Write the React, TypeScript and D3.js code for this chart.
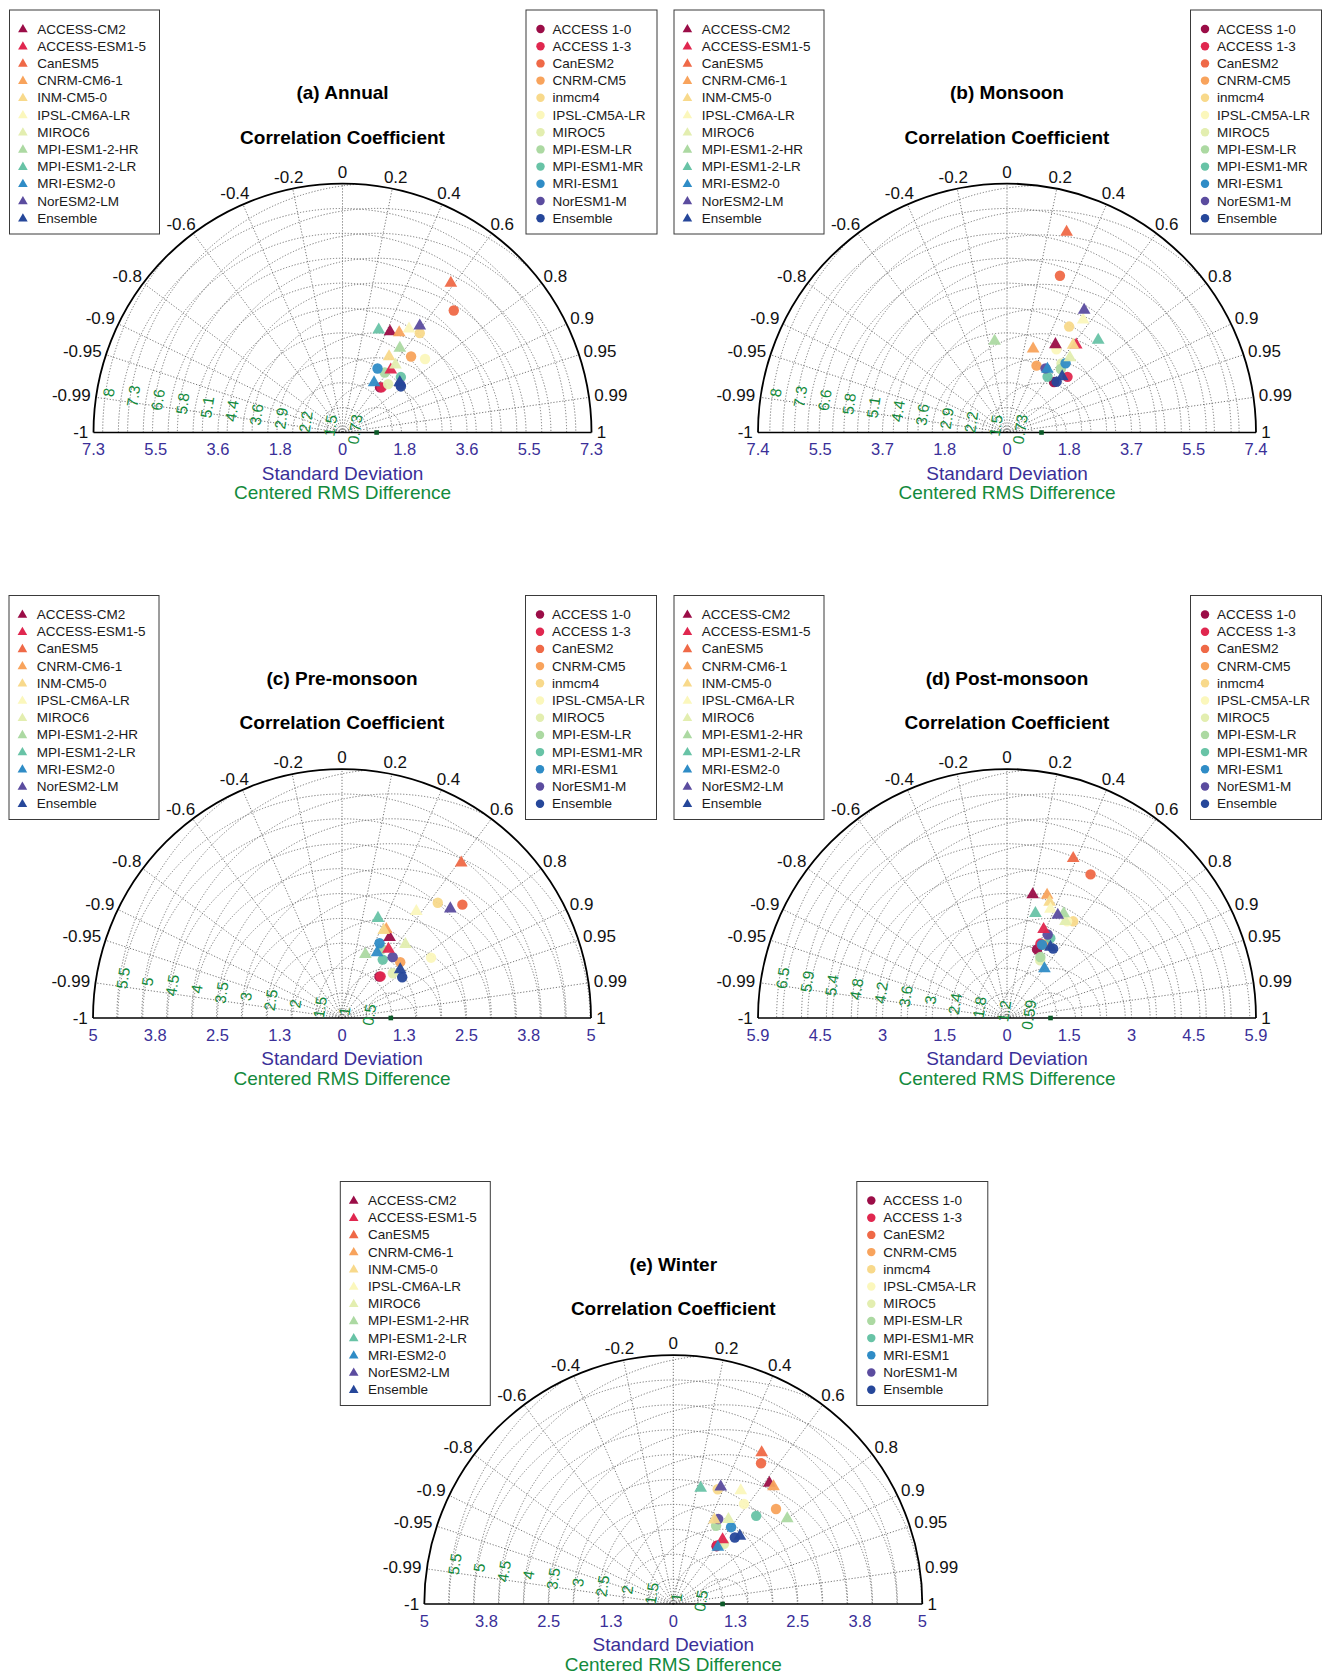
import React from 'react';
import * as d3 from 'd3';

// ---------- model names & colours ----------
const cmip6Models = ['ACCESS-CM2', 'ACCESS-ESM1-5', 'CanESM5', 'CNRM-CM6-1', 'INM-CM5-0', 'IPSL-CM6A-LR', 'MIROC6', 'MPI-ESM1-2-HR', 'MPI-ESM1-2-LR', 'MRI-ESM2-0', 'NorESM2-LM', 'Ensemble'];
const cmip5Models = ['ACCESS 1-0', 'ACCESS 1-3', 'CanESM2', 'CNRM-CM5', 'inmcm4', 'IPSL-CM5A-LR', 'MIROC5', 'MPI-ESM-LR', 'MPI-ESM1-MR', 'MRI-ESM1', 'NorESM1-M', 'Ensemble'];
const modelColors = ['#9b0d47', '#e0274f', '#ef6947', '#f8a35c', '#f8d98b', '#fbf7bc', '#e3eeb0', '#acd9a2', '#68c3a6', '#2f8cc6', '#5b4c9f', '#26479a'];

// ---------- (a) Annual ----------
const annualCmip6Std = [3.27, 2.32, 5.41, 3.37, 2.61, 3.61, 2.52, 2.99, 3.19, 1.73, 3.86, 2.23];
const annualCmip6Corr = [0.426, 0.61, 0.587, 0.493, 0.523, 0.54, 0.616, 0.562, 0.333, 0.535, 0.587, 0.753];
const annualCmip5Std = [1.72, 1.75, 4.84, 3.0, 3.69, 3.24, 1.95, 2.15, 2.36, 2.14, 2.2, 2.18];
const annualCmip5Corr = [0.64, 0.655, 0.674, 0.67, 0.614, 0.747, 0.686, 0.576, 0.725, 0.48, 0.77, 0.785];

// ---------- (b) Monsoon ----------
const monsoonCmip6Std = [2.97, 3.3, 6.18, 2.59, 3.24, 4.02, 2.89, 2.73, 3.84, 2.22, 4.28, 2.32];
const monsoonCmip6Corr = [0.482, 0.62, 0.285, 0.298, 0.603, 0.56, 0.643, -0.134, 0.702, 0.538, 0.533, 0.703];
const monsoonCmip5Std = [2.04, 2.43, 4.89, 2.16, 3.63, 2.86, 2.6, 2.46, 2.04, 2.68, 2.21, 2.1];
const monsoonCmip5Corr = [0.681, 0.736, 0.32, 0.404, 0.506, 0.511, 0.62, 0.647, 0.588, 0.646, 0.515, 0.699];

// ---------- (c) Pre-monsoon ----------
const preCmip6Std = [1.88, 1.67, 3.93, 1.99, 1.95, 2.61, 1.95, 1.36, 2.13, 1.49, 3.09, 1.52];
const preCmip6Corr = [0.508, 0.559, 0.609, 0.447, 0.43, 0.572, 0.653, 0.345, 0.339, 0.473, 0.704, 0.769];
const preCmip5Std = [1.12, 1.14, 3.32, 1.62, 3.01, 2.16, 1.36, 1.6, 1.43, 1.68, 1.59, 1.46];
const preCmip5Corr = [0.671, 0.68, 0.728, 0.722, 0.639, 0.828, 0.751, 0.5, 0.572, 0.449, 0.64, 0.828];

// ---------- (d) Post-monsoon ----------
const postCmip6Std = [3.01, 2.29, 4.13, 3.09, 2.95, 2.8, 2.7, 2.84, 2.59, 1.48, 2.74, 1.99];
const postCmip6Corr = [0.204, 0.382, 0.383, 0.31, 0.345, 0.371, 0.517, 0.477, 0.262, 0.604, 0.443, 0.522];
const postCmip5Std = [1.79, 1.95, 3.97, 1.97, 2.8, 2.72, 1.59, 1.66, 2.17, 1.94, 2.22, 1.99];
const postCmip5Corr = [0.401, 0.41, 0.503, 0.453, 0.565, 0.528, 0.5, 0.48, 0.477, 0.431, 0.438, 0.554];

// ---------- (e) Winter ----------
const winterCmip6Std = [3.1, 1.63, 3.52, 3.1, 1.88, 2.65, 2.03, 2.86, 2.39, 1.45, 2.54, 1.91];
const winterCmip6Corr = [0.622, 0.607, 0.504, 0.649, 0.439, 0.511, 0.545, 0.8, 0.23, 0.617, 0.375, 0.7];
const winterCmip5Std = [1.45, 1.47, 3.33, 2.81, 2.47, 2.46, 1.58, 1.79, 2.43, 1.93, 1.93, 1.82];
const winterCmip5Corr = [0.599, 0.6, 0.529, 0.734, 0.361, 0.577, 0.645, 0.48, 0.685, 0.601, 0.468, 0.679];

// ---------- axes / ticks ----------
const corrTicks = [-0.99, -0.95, -0.9, -0.8, -0.6, -0.4, -0.2, 0, 0.2, 0.4, 0.6, 0.8, 0.9, 0.95, 0.99];
const corrLabels = [-1, -0.99, -0.95, -0.9, -0.8, -0.6, -0.4, -0.2, 0, 0.2, 0.4, 0.6, 0.8, 0.9, 0.95, 0.99, 1];

const annualStdLabels = ['0', '1.8', '3.6', '5.5', '7.3'];
const monsoonStdLabels = ['0', '1.8', '3.7', '5.5', '7.4'];
const preStdLabels = ['0', '1.3', '2.5', '3.8', '5'];
const postStdLabels = ['0', '1.5', '3', '4.5', '5.9'];
const winterStdLabels = ['0', '1.3', '2.5', '3.8', '5'];

const rmsLabels73 = ['0.73', '1.5', '2.2', '2.9', '3.6', '4.4', '5.1', '5.8', '6.6', '7.3', '8'];
const rmsLabels5 = ['0.5', '1', '1.5', '2', '2.5', '3', '3.5', '4', '4.5', '5', '5.5'];
const rmsLabels59 = ['0.59', '1.2', '1.8', '2.4', '3', '3.6', '4.2', '4.8', '5.4', '5.9', '6.5'];

const panels = [
  { id: 'a', title: '(a) Annual', cx: 342.5, cy: 432.5, stdMax: 7.3, step: 0.73, rmsStep: 0.73, refStd: 1.0, stdLabels: annualStdLabels, rmsLabels: rmsLabels73, s6: annualCmip6Std, c6: annualCmip6Corr, s5: annualCmip5Std, c5: annualCmip5Corr },
  { id: 'b', title: '(b) Monsoon', cx: 1007, cy: 432.5, stdMax: 7.36, step: 0.736, rmsStep: 0.73, refStd: 1.02, stdLabels: monsoonStdLabels, rmsLabels: rmsLabels73, s6: monsoonCmip6Std, c6: monsoonCmip6Corr, s5: monsoonCmip5Std, c5: monsoonCmip5Corr },
  { id: 'c', title: '(c) Pre-monsoon', cx: 342, cy: 1018, stdMax: 5, step: 0.5, rmsStep: 0.5, refStd: 0.98, stdLabels: preStdLabels, rmsLabels: rmsLabels5, s6: preCmip6Std, c6: preCmip6Corr, s5: preCmip5Std, c5: preCmip5Corr },
  { id: 'd', title: '(d) Post-monsoon', cx: 1007, cy: 1018, stdMax: 5.95, step: 0.595, rmsStep: 0.595, refStd: 1.04, stdLabels: postStdLabels, rmsLabels: rmsLabels59, s6: postCmip6Std, c6: postCmip6Corr, s5: postCmip5Std, c5: postCmip5Corr },
  { id: 'e', title: '(e) Winter', cx: 673.3, cy: 1604, stdMax: 5, step: 0.5, rmsStep: 0.5, refStd: 0.99, stdLabels: winterStdLabels, rmsLabels: rmsLabels5, s6: winterCmip6Std, c6: winterCmip6Corr, s5: winterCmip5Std, c5: winterCmip5Corr },
];

const FONT = '"Liberation Sans", Arial, Helvetica, sans-serif';
const STD_COLOR = '#3a2f98';
const RMS_COLOR = '#138a3c';
const GRID = '#666';
const R = 249;
const TICK_FS = 16.5;

const charW = (ch: string) => (ch === '.' ? 0.278 : ch === '-' ? 0.333 : 0.556);
const textW = (s: string, fs: number) => Array.from(s).reduce((a, c) => a + charW(c), 0) * fs;

const triPath = (size: number) => d3.symbol().type(d3.symbolTriangle).size(size)() as string;
const circPath = (size: number) => d3.symbol().type(d3.symbolCircle).size(size)() as string;

function Legend({ x, y, w, h, names, kind }: any) {
  const rowY = d3.scaleLinear().domain([0, 11]).range([19, 19 + 11 * 17.2]);
  const marker = kind === 'tri' ? triPath(40) : circPath(56);
  const mx = kind === 'tri' ? 13.4 : 14.5;
  const tx = kind === 'tri' ? 27.7 : 26.5;
  return (
    <g transform={`translate(${x},${y})`}>
      <rect x={0} y={0} width={w} height={h} fill="#fff" stroke="#3a3a3a" strokeWidth={1} />
      {names.map((n: string, i: number) => (
        <g key={n + i}>
          <path d={marker} transform={`translate(${mx},${rowY(i) + (kind === 'tri' ? 0.5 : 0)})`} fill={modelColors[i]} />
          <text x={tx} y={rowY(i)} dominantBaseline="central" fontSize={13.5} fill="#1a1a1a" fontFamily={FONT}>{n}</text>
        </g>
      ))}
    </g>
  );
}

function Taylor({ p }: any) {
  const r = d3.scaleLinear().domain([0, p.stdMax]).range([0, R]);
  const polar = (s: number, c: number): [number, number] => {
    const th = Math.acos(Math.max(-1, Math.min(1, c)));
    return [r(s) * Math.cos(th), -r(s) * Math.sin(th)];
  };
  const stdArcs = d3.range(1, 10).map((k) => k * p.step);
  const semi = (rr: number) => `M${-rr},0 A${rr},${rr} 0 0 1 ${rr},0`;
  const clipId = `clip-${p.id}`;
  const refX = r(p.refStd);
  const tickVals = d3.range(0, 5).map((k) => (k * p.stdMax) / 4);
  const lblAng = (8.5 * Math.PI) / 180;
  const tri = triPath(70);
  const circ = circPath(85);

  return (
    <g transform={`translate(${p.cx},${p.cy})`} fontFamily={FONT}>
      <defs>
        <clipPath id={clipId}>
          <path d={`${semi(R)} Z`} />
        </clipPath>
      </defs>
      {/* titles */}
      <text x={0} y={-340} textAnchor="middle" dominantBaseline="central" fontWeight="bold" fontSize={19}>{p.title}</text>
      <text x={0} y={-295.5} textAnchor="middle" dominantBaseline="central" fontWeight="bold" fontSize={19}>Correlation Coefficient</text>

      {/* std arcs */}
      {stdArcs.map((s, i) => (
        <path key={'s' + i} d={semi(r(s))} fill="none" stroke={GRID} strokeWidth={0.9} strokeDasharray="1.2 1.8" />
      ))}
      {/* rms arcs */}
      <g clipPath={`url(#${clipId})`}>
        {p.rmsLabels.map((_: string, i: number) => (
          <circle key={'r' + i} cx={refX} cy={0} r={r((i + 1) * p.rmsStep)} fill="none" stroke={GRID} strokeWidth={0.9} strokeDasharray="1.2 1.8" />
        ))}
      </g>
      {/* correlation rays */}
      {corrTicks.map((c) => {
        const [x, y] = polar(p.stdMax, c);
        return <line key={'c' + c} x1={0} y1={0} x2={x} y2={y} stroke={GRID} strokeWidth={0.9} strokeDasharray="1.2 1.8" />;
      })}
      {/* outer arc and baseline */}
      <path d={semi(R)} fill="none" stroke="#000" strokeWidth={1.8} />
      <line x1={-R} y1={0} x2={R} y2={0} stroke="#000" strokeWidth={1.6} />

      {/* correlation labels */}
      {corrLabels.map((c) => {
        const th = Math.acos(c);
        const s = String(c);
        const w = textW(s, TICK_FS + 1);
        const x = (R + 5) * Math.cos(th) + (w / 2) * Math.cos(th);
        const y = -(R + 5) * Math.sin(th) - 6.5 * Math.sin(th);
        return (
          <text key={'cl' + c} x={x} y={y} textAnchor="middle" dominantBaseline="central" fontSize={TICK_FS + 0.5} fill="#111">{s}</text>
        );
      })}

      {/* std tick labels */}
      {tickVals.map((t, i) => (
        <g key={'t' + i}>
          <text x={r(t)} y={22.5} textAnchor="middle" fontSize={TICK_FS} fill={STD_COLOR}>{p.stdLabels[i]}</text>
          {i > 0 && <text x={-r(t)} y={22.5} textAnchor="middle" fontSize={TICK_FS} fill={STD_COLOR}>{p.stdLabels[i]}</text>}
        </g>
      ))}
      <text x={0} y={47} textAnchor="middle" fontSize={19} fill={STD_COLOR}>Standard Deviation</text>
      <text x={0} y={66.5} textAnchor="middle" fontSize={19} fill={RMS_COLOR}>Centered RMS Difference</text>

      {/* rms labels */}
      {p.rmsLabels.map((lab: string, i: number) => {
        const rr = r((i + 1) * p.rmsStep) - 3;
        const x = refX - rr * Math.cos(lblAng);
        const y = -rr * Math.sin(lblAng);
        return (
          <text key={'rl' + i} x={x} y={y} textAnchor="middle" dominantBaseline="central" fontSize={15.5} fill={RMS_COLOR}
            transform={`rotate(-81.5 ${x} ${y})`}>{lab}</text>
        );
      })}

      {/* reference point */}
      <rect x={refX - 2.3} y={-2.3} width={4.6} height={4.6} fill="#0b5a28" />

      {/* CMIP5 circles */}
      {p.s5.map((s: number, i: number) => {
        const [x, y] = polar(s, p.c5[i]);
        return <path key={'p5' + i} d={circ} transform={`translate(${x},${y})`} fill={modelColors[i]} fillOpacity={0.95} />;
      })}
      {/* CMIP6 triangles */}
      {p.s6.map((s: number, i: number) => {
        const [x, y] = polar(s, p.c6[i]);
        return <path key={'p6' + i} d={tri} transform={`translate(${x},${y})`} fill={modelColors[i]} fillOpacity={0.95} />;
      })}

      {/* legends */}
      <Legend x={-333} y={-422.5} w={150} h={224} names={cmip6Models} kind="tri" />
      <Legend x={183.5} y={-422.5} w={131} h={224} names={cmip5Models} kind="circ" />
    </g>
  );
}

export default function App() {
  React.useEffect(() => {
    document.body.style.margin = '0';
  }, []);
  return (
    <div style={{ position: 'absolute', left: 0, top: 0, width: 1325, height: 1675, background: '#fff' }}>
      <svg width={1325} height={1675} viewBox="0 0 1325 1675" style={{ display: 'block', background: '#fff' }}>
        {panels.map((p) => (
          <Taylor key={p.id} p={p} />
        ))}
      </svg>
    </div>
  );
}
